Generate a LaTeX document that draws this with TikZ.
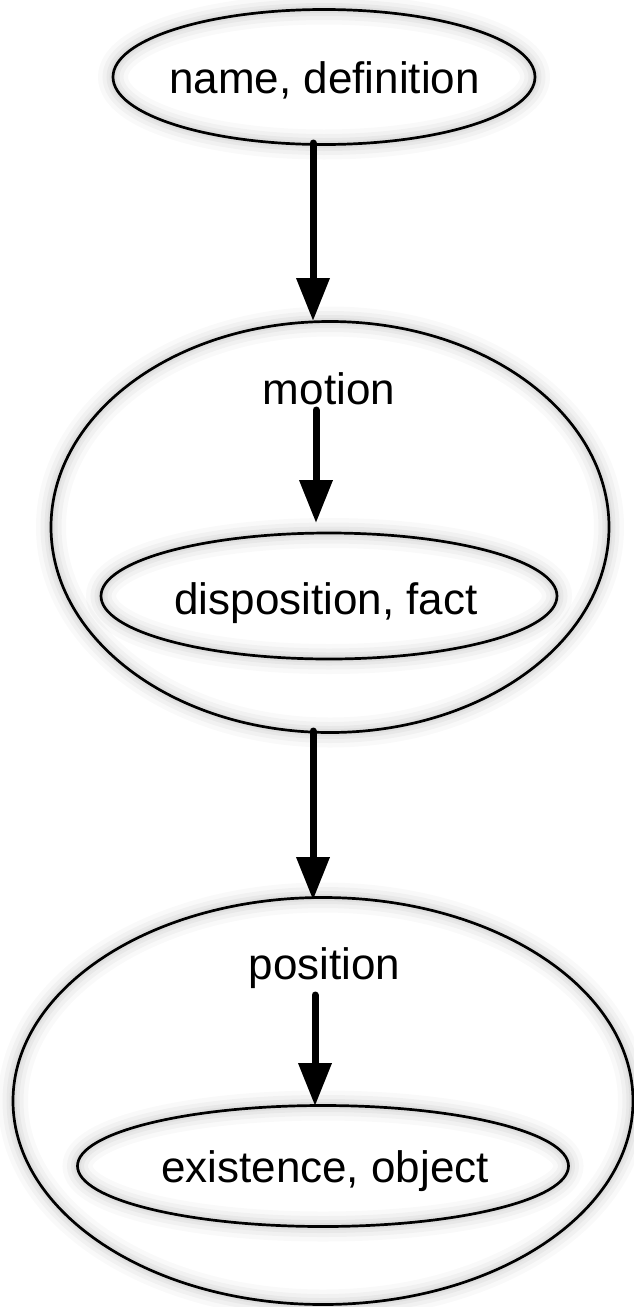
\documentclass[tikz,border=0pt]{standalone}
\usepackage{fontspec}
\setmainfont{Liberation Sans}
\usetikzlibrary{arrows.meta,shapes.geometric}
\begin{document}
\begin{tikzpicture}[x=1pt,y=1pt,
  glow/.style={
    preaction={draw=black,draw opacity=0.025,line width=30pt},
    preaction={draw=black,draw opacity=0.03,line width=21pt},
    preaction={draw=black,draw opacity=0.035,line width=13pt},
    preaction={draw=black,draw opacity=0.04,line width=7pt}},
  oval/.style={ellipse,draw=black,line width=2.7pt,inner sep=0pt,glow},
  lbl/.style={anchor=base,inner sep=0pt,font=\fontsize{44}{48}\selectfont},
  flow/.style={line width=7pt,line cap=round,-{Triangle[width=32pt,length=43pt]}}]
\useasboundingbox (0,0) rectangle (634,-1307);
% outer containers
\node[oval,minimum width=558pt,minimum height=411pt] (motion) at (330,-527) {};
\node[oval,minimum width=620pt,minimum height=407pt] (position) at (323,-1101) {};
% simple ovals
\node[oval,minimum width=422pt,minimum height=135pt] (name) at (324,-77) {};
\node[oval,minimum width=456pt,minimum height=126pt] (disp) at (329,-596) {};
\node[oval,minimum width=491pt,minimum height=121pt] (exist) at (323,-1166) {};
% labels
\node[lbl] (tname) at (324.5,-93) {name, definition};
\node[lbl] (tmotion) at (329,-404) {motion};
\node[lbl] (tdisp) at (326,-614) {disposition, fact};
\node[lbl] (tposition) at (324.5,-979) {position};
\node[lbl] (texist) at (325,-1182) {existence, object};
% connector ends
\coordinate (a1s) at (313,-143);
\coordinate (a1e) at (313,-321);
\coordinate (a2s) at (316,-410);
\coordinate (a2e) at (316,-523);
\coordinate (a3s) at (313,-731);
\coordinate (a3e) at (313,-900);
\coordinate (a4s) at (315,-995);
\coordinate (a4e) at (315,-1106);
\draw[flow] (a1s) -- (a1e);
\draw[flow] (a2s) -- (a2e);
\draw[flow] (a3s) -- (a3e);
\draw[flow] (a4s) -- (a4e);
\end{tikzpicture}
\end{document}
